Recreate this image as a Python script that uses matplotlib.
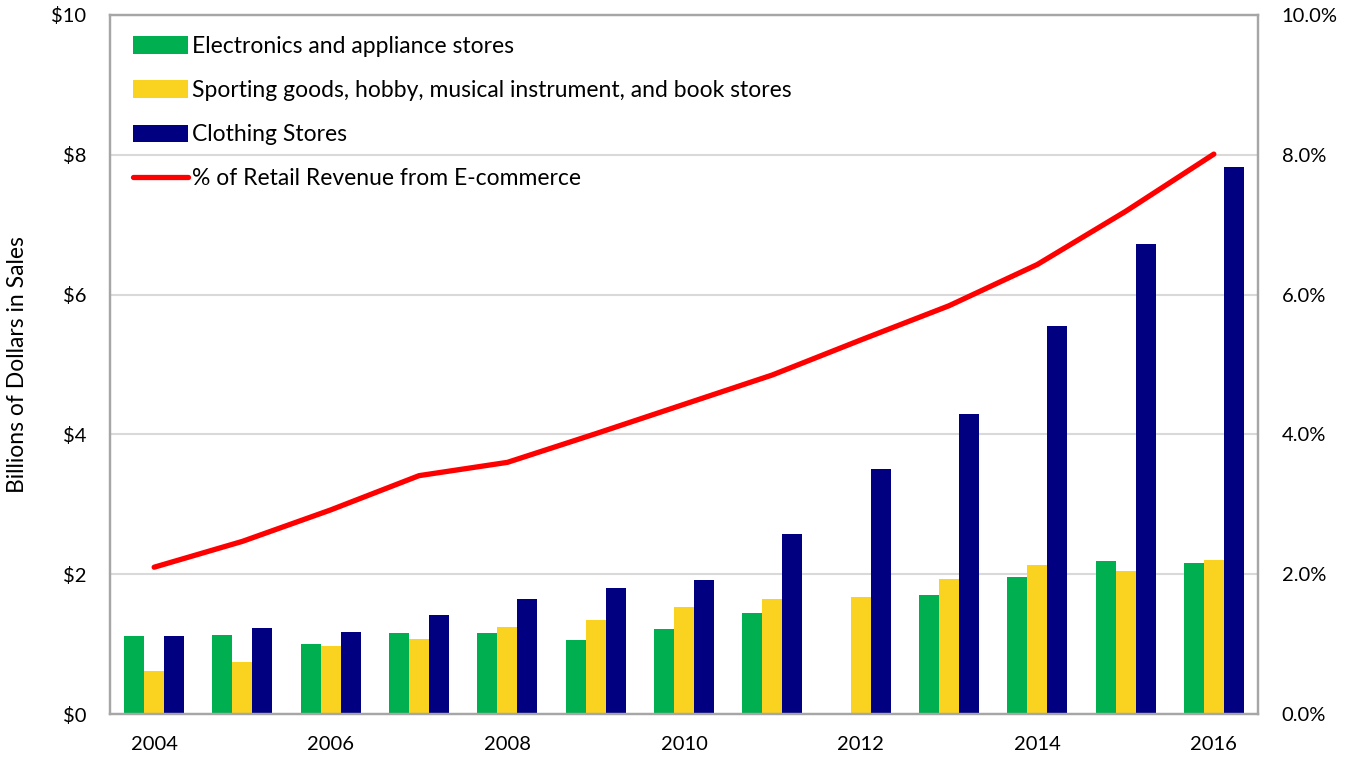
import numpy as np
import matplotlib
matplotlib.use("Agg")
import matplotlib.pyplot as plt
from matplotlib.lines import Line2D

# E-commerce sales by store type (billions of dollars) and e-commerce share of retail
years = list(range(2004, 2017))
electronics = [1.12, 1.13, 1.00, 1.16, 1.16, 1.06, 1.21, 1.45, np.nan, 1.70, 1.96, 2.19, 2.16]
sporting = [0.62, 0.75, 0.97, 1.08, 1.25, 1.35, 1.53, 1.65, 1.67, 1.93, 2.13, 2.04, 2.20]
clothing = [1.12, 1.23, 1.17, 1.42, 1.65, 1.80, 1.91, 2.57, 3.50, 4.29, 5.55, 6.72, 7.83]
ecommerce_pct = [2.10, 2.47, 2.92, 3.41, 3.60, 4.01, 4.43, 4.85, 5.35, 5.84, 6.43, 7.19, 8.01]

series_labels = [
    "Electronics and appliance stores",
    "Sporting goods, hobby, musical instrument, and book stores",
    "Clothing Stores",
]
line_label = "% of Retail Revenue from E-commerce"
y_label = "Billions of Dollars in Sales"

GREEN = "#00B050"
YELLOW = "#FAD220"
NAVY = "#000080"
RED = "#FF0000"
GRID = "#D9D9D9"
SPINE = "#A6A6A6"

FONT = ["Lato", "DejaVu Sans"]
FS_TICK = 14.5
FS_TEXT = 16.5
plt.rcParams["font.family"] = FONT

fig = plt.figure(figsize=(13.47, 7.59), dpi=100)
ax = fig.add_axes([110 / 1347, 45 / 759, 1148 / 1347, 699 / 759])

x = np.arange(len(years))
w = 0.2265
ax.bar(x - w, electronics, w, color=GREEN, label=series_labels[0], zorder=2)
ax.bar(x, sporting, w, color=YELLOW, label=series_labels[1], zorder=2)
ax.bar(x + w, clothing, w, color=NAVY, label=series_labels[2], zorder=2)

ax.set_xlim(-0.5, len(years) - 0.5)
ax.set_ylim(0, 10)
ax.set_yticks(np.arange(0, 11, 2))
ax.set_yticklabels([f"${v}" for v in range(0, 11, 2)])
ax.set_xticks(x[::2])
ax.set_xticklabels([str(y) for y in years[::2]])
ax.grid(axis="y", color=GRID, linewidth=1.5, zorder=0)
ax.set_axisbelow(True)
ax.tick_params(axis="y", length=0, pad=17, labelsize=FS_TICK)
ax.tick_params(axis="x", length=0, pad=16, labelsize=FS_TICK)
ax.set_ylabel(y_label, fontsize=FS_TEXT, labelpad=17)
for s in ax.spines.values():
    s.set_color(SPINE)
    s.set_linewidth(1.6)

ax2 = ax.twinx()
ax2.plot(x, ecommerce_pct, color=RED, linewidth=3.8, solid_capstyle="round",
         solid_joinstyle="round", zorder=3)
ax2.set_ylim(0, 10)
ax2.set_yticks(np.arange(0, 11, 2))
ax2.set_yticklabels([f"{v:.1f}%" for v in range(0, 11, 2)])
ax2.tick_params(axis="y", length=0, pad=17, labelsize=FS_TICK)
for s in ax2.spines.values():
    s.set_color(SPINE)
    s.set_linewidth(1.6)

handles, labels = ax.get_legend_handles_labels()
handles.append(Line2D([], [], color=RED, linewidth=3.8, solid_capstyle="round"))
labels.append(line_label)
ax2.legend(handles, labels, loc="upper left", bbox_to_anchor=(0.02, 0.970),
           frameon=False, fontsize=FS_TEXT, borderpad=0, borderaxespad=0,
           handlelength=2.4, handleheight=0.79, handletextpad=0.17,
           labelspacing=1.01)

fig.savefig("out.png", dpi=100)
